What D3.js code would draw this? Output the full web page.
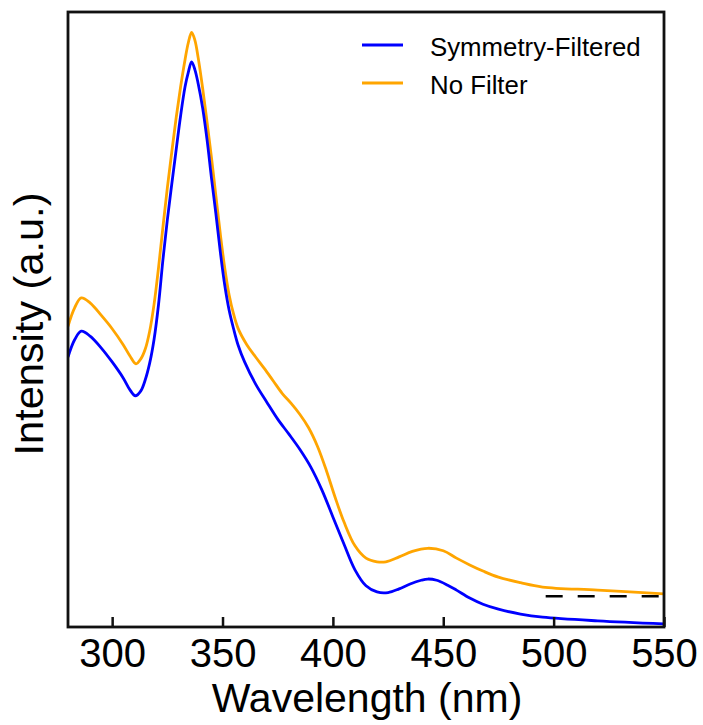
<!DOCTYPE html>
<html>
<head>
<meta charset="utf-8">
<script src="https://cdn.jsdelivr.net/npm/d3@7"></script>
<style>
  html, body { margin: 0; padding: 0; background: #ffffff; }
  svg { display: block; }
  text { font-family: "Liberation Sans", Arial, Helvetica, sans-serif; fill: #000; }
</style>
</head>
<body>
<svg id="chart" width="703" height="725"></svg>
<script>
// ---- data ----
const xTicks = [300, 350, 400, 450, 500, 550];
const xLabel = "Wavelength (nm)";
const yLabel = "Intensity (a.u.)";
const seriesNames = ["Symmetry-Filtered", "No Filter"];
const seriesColors = ["#0000ff", "#ffa500"];

const blueWavelength = [280, 283, 286, 290, 295, 300, 305, 308, 310.5, 313, 315, 317, 319, 321, 323, 325, 327, 329, 331, 333, 334.5, 336, 337.5, 339, 341, 343, 345, 347, 349, 351, 353, 355, 357, 360, 365, 370, 375, 380, 385, 390, 395, 400, 405, 410, 415, 420, 425, 430, 435, 440, 443, 447, 452, 456, 462, 468, 475, 485, 495, 520, 550];
const blueIntensity = [0.439, 0.467, 0.481, 0.473, 0.454, 0.431, 0.405, 0.386, 0.376, 0.384, 0.402, 0.429, 0.468, 0.524, 0.597, 0.662, 0.720, 0.776, 0.831, 0.878, 0.902, 0.919, 0.906, 0.883, 0.844, 0.792, 0.730, 0.672, 0.610, 0.556, 0.515, 0.485, 0.459, 0.431, 0.395, 0.366, 0.338, 0.314, 0.289, 0.260, 0.223, 0.179, 0.135, 0.093, 0.067, 0.057, 0.056, 0.062, 0.070, 0.076, 0.078, 0.076, 0.068, 0.060, 0.047, 0.037, 0.029, 0.021, 0.016, 0.010, 0.005];

const orangeWavelength = [280, 283, 286, 290, 295, 300, 305, 308, 310.8, 313, 315, 317, 319, 321, 323, 325, 327, 329, 331, 333, 334.5, 336, 337.5, 339, 341, 343, 345, 347, 349, 351, 353, 355, 357, 361, 365, 369, 373, 377, 381, 385, 389, 393, 397, 401, 405, 410, 415, 420, 424, 430, 436, 443, 450, 456, 462, 468, 475, 485, 495, 520, 550];
const orangeIntensity = [0.489, 0.519, 0.535, 0.527, 0.507, 0.485, 0.459, 0.441, 0.428, 0.436, 0.452, 0.481, 0.525, 0.584, 0.650, 0.714, 0.772, 0.828, 0.878, 0.922, 0.950, 0.967, 0.954, 0.925, 0.876, 0.821, 0.763, 0.701, 0.639, 0.584, 0.540, 0.509, 0.486, 0.459, 0.439, 0.420, 0.400, 0.380, 0.364, 0.346, 0.324, 0.294, 0.255, 0.211, 0.171, 0.132, 0.112, 0.106, 0.106, 0.114, 0.123, 0.128, 0.124, 0.112, 0.101, 0.091, 0.081, 0.072, 0.065, 0.060, 0.054];

const baselineWavelength = [496.4, 550];
const baselineIntensity = [0.050, 0.050];

// ---- layout ----
const svg = d3.select("#chart");
const plot = { left: 68, right: 664, top: 12, bottom: 627 };

const x = d3.scaleLinear().domain([280, 550]).range([plot.left, plot.right]);
const y = d3.scaleLinear().domain([0, 1]).range([plot.bottom, plot.top]);

const line = d3.line()
  .x(d => x(d[0]))
  .y(d => y(d[1]))
  .curve(d3.curveCatmullRom.alpha(0.5));

svg.append("clipPath").attr("id", "clip")
  .append("rect")
  .attr("x", plot.left).attr("y", plot.top)
  .attr("width", plot.right - plot.left).attr("height", plot.bottom - plot.top);

const g = svg.append("g").attr("clip-path", "url(#clip)");

// dashed baseline
g.append("path")
  .datum(d3.zip(baselineWavelength, baselineIntensity))
  .attr("fill", "none")
  .attr("stroke", "#000")
  .attr("stroke-width", 2.6)
  .attr("stroke-dasharray", "17,15")
  .attr("d", d3.line().x(d => x(d[0])).y(d => y(d[1])));

// series
const series = [
  d3.zip(orangeWavelength, orangeIntensity),
  d3.zip(blueWavelength, blueIntensity)
];
const seriesCol = [seriesColors[1], seriesColors[0]];
series.forEach((s, i) => {
  g.append("path")
    .datum(s)
    .attr("fill", "none")
    .attr("stroke", seriesCol[i])
    .attr("stroke-width", 2.8)
    .attr("stroke-linejoin", "round")
    .attr("d", line);
});

// x axis
const xAxis = d3.axisBottom(x)
  .tickValues(xTicks)
  .tickFormat(d3.format("d"))
  .tickSizeInner(-10)
  .tickSizeOuter(0)
  .tickPadding(12);

const ax = svg.append("g")
  .attr("transform", `translate(0,${plot.bottom})`)
  .call(xAxis);
ax.select(".domain").remove();
ax.selectAll(".tick line").attr("stroke", "#111").attr("stroke-width", 2.5);
ax.selectAll(".tick text")
  .attr("font-size", 40)
  .attr("font-family", "Liberation Sans, Arial, Helvetica, sans-serif")
  .attr("fill", "#000");

// frame
svg.append("rect")
  .attr("x", plot.left).attr("y", plot.top)
  .attr("width", plot.right - plot.left).attr("height", plot.bottom - plot.top)
  .attr("fill", "none")
  .attr("stroke", "#111")
  .attr("stroke-width", 2.8);

// axis labels
svg.append("text")
  .attr("x", 367).attr("y", 712)
  .attr("text-anchor", "middle")
  .attr("font-size", 41)
  .text(xLabel);

svg.append("text")
  .attr("transform", "translate(43,324) rotate(-90)")
  .attr("text-anchor", "middle")
  .attr("font-size", 41.5)
  .text(yLabel);

// legend
const legend = svg.append("g");
seriesNames.forEach((name, i) => {
  const ly = 45 + i * 38;
  legend.append("line")
    .attr("x1", 362).attr("x2", 403)
    .attr("y1", ly).attr("y2", ly)
    .attr("stroke", seriesColors[i])
    .attr("stroke-width", 2.8);
  legend.append("text")
    .attr("x", 430).attr("y", ly + 11)
    .attr("font-size", 25.8)
    .attr("fill", "#1a1a1a")
    .text(name);
});
</script>
</body>
</html>
